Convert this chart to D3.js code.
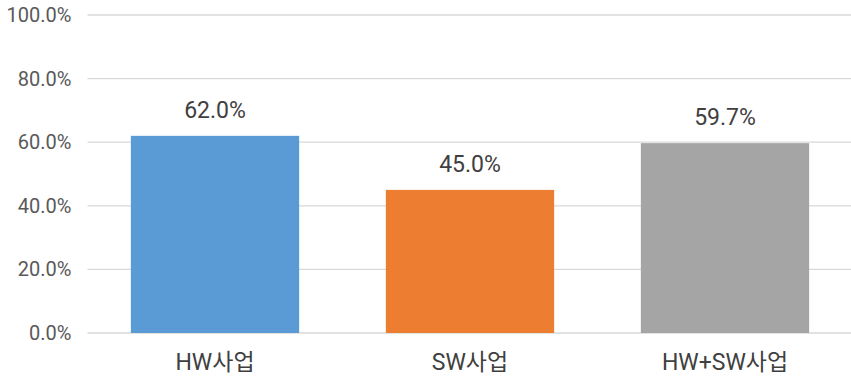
<!DOCTYPE html>
<html>
<head>
<meta charset="utf-8">
<script src="https://cdn.jsdelivr.net/npm/d3@7"></script>
<style>
  html, body { margin: 0; padding: 0; background: #fff; }
  svg { display: block; }
  text { font-family: Roboto, "Noto Sans CJK KR", "Noto Sans", sans-serif; }
</style>
</head>
<body>
<svg id="chart" width="851" height="378"></svg>
<script>
// Share by business type (percent)
const categories = ["HW사업", "SW사업", "HW+SW사업"];
const values = [62.0, 45.0, 59.7];
const colors = ["#5B9BD5", "#ED7D31", "#A5A5A5"];
const yTicks = [0, 20, 40, 60, 80, 100];

const svg = d3.select("#chart");
const width = 851, height = 378;
const margin = { top: 15, right: -1.5, bottom: 45, left: 87.5 };
const innerW = width - margin.left - margin.right;
const innerH = height - margin.top - margin.bottom;

const g = svg.append("g").attr("transform", `translate(${margin.left},${margin.top})`);

const x = d3.scaleBand().domain(categories).range([0, innerW]).paddingInner(0.34).paddingOuter(0.17);
const y = d3.scaleLinear().domain([0, 100]).range([innerH, 0]);

// Gridlines
g.append("g")
  .selectAll("line")
  .data(yTicks)
  .join("line")
  .attr("x1", 0)
  .attr("x2", innerW)
  .attr("y1", d => y(d))
  .attr("y2", d => y(d))
  .attr("stroke", "#d9d9d9")
  .attr("stroke-width", 1.3);

// Y axis labels
const yAxis = d3.axisLeft(y).tickValues(yTicks).tickFormat(d => d.toFixed(1) + "%").tickSize(0).tickPadding(16);
g.append("g").call(yAxis)
  .call(s => s.select(".domain").remove())
  .call(s => s.selectAll("text").attr("fill", "#595959").style("font-size", "20px"));

// Bars
g.append("g")
  .selectAll("rect")
  .data(values)
  .join("rect")
  .attr("x", (d, i) => x(categories[i]))
  .attr("width", x.bandwidth())
  .attr("y", d => y(d))
  .attr("height", d => innerH - y(d))
  .attr("fill", (d, i) => colors[i]);

// Value labels
g.append("g")
  .selectAll("text")
  .data(values)
  .join("text")
  .attr("x", (d, i) => x(categories[i]) + x.bandwidth() / 2)
  .attr("y", d => y(d) - 18)
  .attr("text-anchor", "middle")
  .attr("fill", "#404040")
  .style("font-size", "23px")
  .text(d => d.toFixed(1) + "%");

// Category axis labels
const xAxis = d3.axisBottom(x).tickSize(0).tickPadding(21);
g.append("g").attr("transform", `translate(0,${innerH})`).call(xAxis)
  .call(s => s.select(".domain").remove())
  .call(s => s.selectAll("text").attr("fill", "#404040").style("font-size", "23px"));
</script>
</body>
</html>
